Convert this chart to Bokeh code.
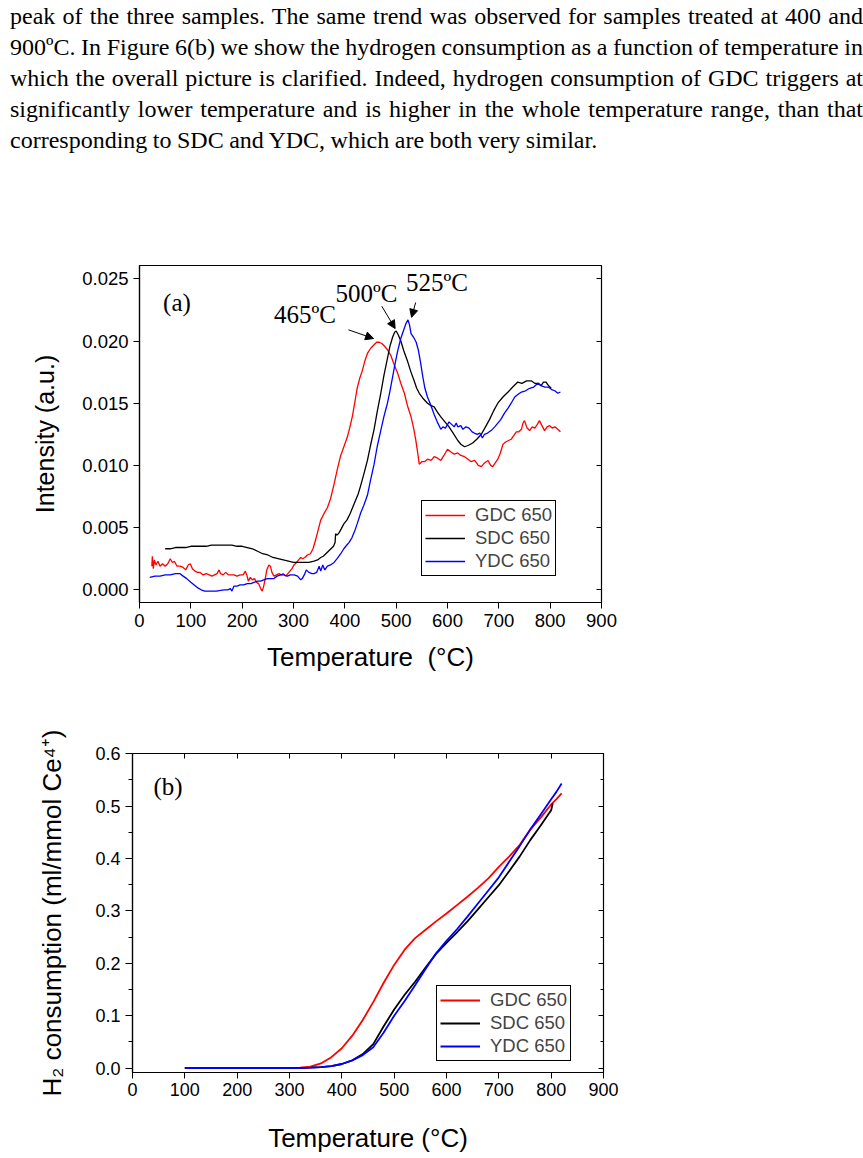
from bokeh.plotting import figure
from bokeh.models import (Range1d, SingleIntervalTicker, NumeralTickFormatter, LinearAxis,
                          Div, Arrow, NormalHead, ColumnDataSource, CustomJSTickFormatter)
from bokeh.core.properties import value
from bokeh.embed import file_html
from bokeh.resources import INLINE

# ---------------- text ----------------
PARAGRAPH = ("peak of the three samples. The same trend was observed for samples treated at 400 and "
             "900\u00baC. In Figure 6(b) we show the hydrogen consumption as a function of temperature in "
             "which the overall picture is clarified. Indeed, hydrogen consumption of GDC triggers at "
             "significantly lower temperature and is higher in the whole temperature range, than that "
             "corresponding to SDC and YDC, which are both very similar.")

SERIES = ["GDC 650", "SDC 650", "YDC 650"]
COLORS = ["#ff0000", "#000000", "#0000ff"]

# ---------------- panel (a): TPR intensity ----------------
gdc_a_x = [24, 25, 27, 29, 32, 36, 40, 45, 50, 55, 60, 64, 68, 73, 79, 85, 90, 95, 99, 103, 108, 113, 118, 124,
           130, 136, 141, 146, 151, 155, 158, 163, 168, 173, 178, 184, 190, 196, 202, 206, 209, 212, 216, 220,
           224, 228, 232, 236, 239, 242, 245, 248, 252, 255, 258, 262, 267, 272, 276, 280, 285, 289, 293, 297,
           301, 306, 310, 314, 318, 322, 327, 333, 338, 343, 348, 353, 359, 366, 372, 379, 386, 392, 399, 405,
           410, 415, 420, 424, 429, 434, 439, 444, 450, 457, 462, 467, 472, 477, 483, 490, 496, 503, 509, 516,
           522, 529, 534, 538, 542, 545, 550, 555, 561, 568, 574, 580, 587, 593, 600, 606, 613, 620, 626, 633,
           640, 646, 653, 660, 666, 672, 679, 684, 688, 693, 698, 703, 708, 714, 719, 724, 729, 734, 739, 744,
           747, 750, 755, 760, 765, 770, 775, 779, 784, 789, 794, 799, 804, 809, 815, 820]
gdc_a_y = [0.0019, 0.0027, 0.0017, 0.0024, 0.0020, 0.0023, 0.0019, 0.0021, 0.0019, 0.0021, 0.0025, 0.0022,
           0.0023, 0.0019, 0.0019, 0.0018, 0.0016, 0.0020, 0.0021, 0.0017, 0.0015, 0.0014, 0.0014, 0.0012,
           0.0013, 0.0012, 0.0011, 0.0012, 0.0013, 0.0016, 0.0013, 0.0012, 0.0014, 0.0012, 0.0012, 0.0012,
           0.0011, 0.0012, 0.0012, 0.0015, 0.0012, 0.0007, 0.0010, 0.0008, 0.0009, 0.0006, 0.0005, 0.0001,
           -0.0001, 0.0003, 0.0009, 0.0016, 0.0020, 0.0019, 0.0014, 0.0011, 0.0012, 0.0013, 0.0012, 0.0013,
           0.0011, 0.0013, 0.0015, 0.0017, 0.0020, 0.0022, 0.0024, 0.0026, 0.0025, 0.0026, 0.0028, 0.0029,
           0.0033, 0.0040, 0.0048, 0.0056, 0.0061, 0.0066, 0.0073, 0.0085, 0.0098, 0.0108, 0.0116, 0.0123,
           0.0131, 0.0140, 0.0152, 0.0162, 0.0170, 0.0176, 0.0184, 0.0190, 0.0194, 0.0197, 0.0199, 0.0199,
           0.0198, 0.0196, 0.0193, 0.0188, 0.0181, 0.0174, 0.0166, 0.0158, 0.0148, 0.0139, 0.0130, 0.0121,
           0.0110, 0.0101, 0.0103, 0.0103, 0.0105, 0.0104, 0.0107, 0.0106, 0.0104, 0.0108, 0.0113, 0.0111,
           0.0109, 0.0110, 0.0108, 0.0107, 0.0105, 0.0103, 0.0104, 0.0100, 0.0099, 0.0102, 0.0104, 0.0100,
           0.0099, 0.0102, 0.0105, 0.0110, 0.0117, 0.0119, 0.0120, 0.0121, 0.0124, 0.0127, 0.0127, 0.0129,
           0.0134, 0.0136, 0.0130, 0.0128, 0.0131, 0.0130, 0.0133, 0.0136, 0.0132, 0.0128, 0.0131, 0.0132,
           0.0130, 0.0131, 0.0129, 0.0127]

sdc_a_x = [50, 60, 70, 80, 90, 100, 110, 120, 130, 140, 150, 160, 170, 180, 190, 200, 210, 220, 230, 240, 250,
           260, 270, 280, 290, 300, 310, 320, 330, 340, 347, 353, 358, 363, 368, 373, 378, 381, 382, 385, 389,
           393, 398, 404, 410, 415, 420, 426, 431, 437, 444, 450, 457, 463, 470, 476, 483, 488, 493, 497, 500,
           504, 509, 515, 522, 528, 535, 540, 545, 552, 561, 568, 574, 580, 587, 595, 603, 611, 620, 626, 633,
           640, 649, 657, 666, 674, 682, 690, 698, 708, 718, 727, 737, 745, 754, 763, 770, 777, 782, 787, 792,
           797, 802]
sdc_a_y = [0.0033, 0.0033, 0.0034, 0.0034, 0.0034, 0.0035, 0.0035, 0.0035, 0.0035, 0.0036, 0.0036, 0.0036,
           0.0036, 0.0036, 0.0035, 0.0035, 0.0034, 0.0033, 0.0031, 0.0029, 0.0028, 0.0026, 0.0025, 0.0024,
           0.0023, 0.0022, 0.0022, 0.0022, 0.0022, 0.0023, 0.0024, 0.0026, 0.0027, 0.0029, 0.0031, 0.0033,
           0.0035, 0.0038, 0.0045, 0.0044, 0.0046, 0.0049, 0.0053, 0.0056, 0.0061, 0.0066, 0.0071, 0.0077,
           0.0084, 0.0093, 0.0104, 0.0116, 0.0129, 0.0143, 0.0158, 0.0172, 0.0186, 0.0196, 0.0203, 0.0207,
           0.0208, 0.0205, 0.0200, 0.0192, 0.0184, 0.0176, 0.0168, 0.0162, 0.0158, 0.0154, 0.0150, 0.0148,
           0.0147, 0.0143, 0.0139, 0.0135, 0.0131, 0.0126, 0.0120, 0.0117, 0.0115, 0.0116, 0.0118, 0.0121,
           0.0125, 0.0131, 0.0137, 0.0144, 0.0150, 0.0155, 0.0159, 0.0163, 0.0167, 0.0166, 0.0168, 0.0168,
           0.0166, 0.0166, 0.0164, 0.0167, 0.0167, 0.0164, 0.0162]

ydc_a_x = [20, 30, 40, 50, 60, 70, 79, 85, 92, 100, 106, 112, 120, 127, 132, 140, 150, 158, 165, 172, 177, 180,
           184, 190, 196, 203, 210, 217, 223, 230, 236, 242, 249, 255, 262, 268, 275, 281, 288, 294, 301, 308,
           314, 317, 321, 325, 330, 336, 340, 345, 350, 353, 357, 361, 366, 372, 379, 385, 392, 398, 404, 408,
           414, 419, 424, 431, 437, 444, 450, 457, 463, 470, 476, 483, 488, 493, 498, 503, 509, 514, 519, 523,
           526, 529, 534, 539, 543, 547, 552, 556, 561, 567, 574, 580, 587, 591, 596, 603, 608, 613, 617, 620,
           626, 630, 636, 642, 648, 652, 658, 663, 668, 672, 678, 685, 692, 698, 704, 711, 718, 724, 731, 737,
           744, 752, 760, 768, 776, 783, 790, 796, 803, 809, 815, 820]
ydc_a_y = [0.0010, 0.0011, 0.0011, 0.0012, 0.0012, 0.0013, 0.0013, 0.0011, 0.0009, 0.0006, 0.0004, 0.0002,
           0.0000, -0.0001, -0.0001, -0.0001, -0.0001, -0.00005, 0.0000, 0.0000, 0.0001, -0.0001, 0.0003,
           0.0003, 0.0004, 0.0004, 0.0005, 0.0005, 0.0006, 0.0007, 0.0007, 0.0008, 0.0009, 0.0009, 0.0009,
           0.0011, 0.0012, 0.0012, 0.0011, 0.0012, 0.0012, 0.0011, 0.0008, 0.0009, 0.0012, 0.0016, 0.0014,
           0.0013, 0.0013, 0.0014, 0.0019, 0.0015, 0.0020, 0.0016, 0.0019, 0.0020, 0.0022, 0.0025, 0.0029,
           0.0033, 0.0036, 0.0038, 0.0042, 0.0047, 0.0053, 0.0062, 0.0068, 0.0076, 0.0088, 0.0101, 0.0115,
           0.0128, 0.0139, 0.0150, 0.0160, 0.0171, 0.0182, 0.0192, 0.0202, 0.0208, 0.0214, 0.0217, 0.0213,
           0.0206, 0.0203, 0.0199, 0.0193, 0.0184, 0.0171, 0.0162, 0.0155, 0.0149, 0.0141, 0.0135, 0.0129,
           0.0131, 0.0130, 0.0135, 0.0133, 0.0131, 0.0134, 0.0131, 0.0132, 0.0129, 0.0131, 0.0130, 0.0127,
           0.0126, 0.0125, 0.0126, 0.0122, 0.0125, 0.0126, 0.0128, 0.0131, 0.0134, 0.0137, 0.0142, 0.0146,
           0.0150, 0.0155, 0.0157, 0.0159, 0.0160, 0.0162, 0.0163, 0.0166, 0.0164, 0.0163, 0.0163, 0.0161,
           0.0160, 0.0158, 0.0159]

# peak annotations of panel (a)
peak_labels = ["465\u00baC", "500\u00baC", "525\u00baC"]
peak_label_x = [262, 382, 519]
peak_label_y = [0.0221, 0.0238, 0.0247]
arrow_x0 = [407, 472, 538]
arrow_y0 = [0.0209, 0.0228, 0.0231]
arrow_x1 = [456, 498, 530]
arrow_y1 = [0.0202, 0.0210, 0.0219]

# ---------------- panel (b): H2 consumption ----------------
gdc_b_x = [100, 150, 200, 250, 300, 320, 340, 360, 380, 400, 420, 440, 460, 480, 500, 520, 540, 560, 580, 600,
           620, 640, 660, 680, 700, 720, 740, 760, 780, 800, 810, 820]
gdc_b_y = [0, 0, 0, 0, 0.0005, 0.001, 0.003, 0.009, 0.021, 0.038, 0.062, 0.092, 0.126, 0.163, 0.197, 0.226,
           0.248, 0.264, 0.280, 0.295, 0.311, 0.327, 0.344, 0.362, 0.384, 0.404, 0.426, 0.455, 0.478, 0.503,
           0.513, 0.524]
sdc_b_x = [100, 150, 200, 250, 300, 320, 340, 360, 380, 400, 420, 440, 460, 480, 500, 520, 540, 560, 580, 600,
           620, 640, 660, 680, 700, 720, 740, 760, 780, 795, 800, 803]
sdc_b_y = [0, 0, 0, 0, 0, 0.0003, 0.001, 0.002, 0.004, 0.008, 0.015, 0.027, 0.046, 0.080, 0.112, 0.140, 0.165,
           0.192, 0.218, 0.239, 0.259, 0.280, 0.303, 0.326, 0.349, 0.376, 0.404, 0.435, 0.463, 0.485, 0.492,
           0.505]
ydc_b_x = [100, 150, 200, 250, 300, 320, 340, 360, 380, 400, 420, 440, 460, 480, 500, 520, 540, 560, 580, 600,
           620, 640, 660, 680, 700, 720, 740, 760, 780, 800, 810, 820]
ydc_b_y = [0, 0, 0, 0, 0, 0.0003, 0.001, 0.002, 0.004, 0.008, 0.015, 0.025, 0.040, 0.068, 0.100, 0.128, 0.158,
           0.189, 0.219, 0.243, 0.265, 0.289, 0.314, 0.339, 0.364, 0.394, 0.424, 0.455, 0.484, 0.513, 0.527,
           0.543]

X_TICK_STEP = 100
SANS = "Liberation Sans"
SERIF = "Liberation Serif"


def style_axis(ax, size):
    ax.axis_line_color = "black"
    ax.axis_line_width = 1.2
    ax.major_tick_line_color = "black"
    ax.minor_tick_line_color = "black"
    ax.major_label_text_font = SANS
    ax.major_label_text_font_size = size
    ax.major_label_text_color = "black"
    ax.axis_label_text_font = SANS
    ax.axis_label_text_font_style = "normal"
    ax.axis_label_text_color = "black"


def mirror_axis(p, place, ticker):
    ax = LinearAxis(ticker=ticker, formatter=CustomJSTickFormatter(code="return ''"))
    ax.major_tick_in = 5
    ax.major_tick_out = 0
    ax.minor_tick_in = 3
    ax.minor_tick_out = 0
    ax.axis_line_color = "black"
    ax.major_tick_line_color = "black"
    ax.minor_tick_line_color = "black"
    ax.major_label_standoff = 0
    p.add_layout(ax, place)


def style_legend(p, loc, size):
    leg = p.legend[0]
    leg.location = loc
    leg.border_line_color = "black"
    leg.border_line_width = 1
    leg.border_line_alpha = 1
    leg.background_fill_color = "white"
    leg.background_fill_alpha = 1
    leg.label_text_font = SANS
    leg.label_text_font_size = size
    leg.glyph_width = 40
    leg.glyph_height = 18
    leg.label_height = 18
    leg.spacing = 1
    leg.padding = 3
    leg.margin = 0
    leg.label_standoff = 10


# ---------- paragraph ----------
para = Div(text=('<div style="margin:-4px 0 0 5px;width:853px;font-family:\'Liberation Serif\',serif;'
                 'font-size:24px;line-height:31px;text-align:justify;color:#000;word-spacing:-0.5px;">'
                 + PARAGRAPH + '</div>'),
           width=863, height=225)

# ---------- figure (a) ----------
pa = figure(width=863, height=455, output_backend="svg", toolbar_location=None,
            x_range=Range1d(0, 900), y_range=Range1d(-0.00102, 0.02607),
            min_border_left=139, min_border_right=262, min_border_top=30, min_border_bottom=88)
pa.background_fill_color = "white"
pa.border_fill_color = "white"
pa.outline_line_color = "black"
pa.outline_line_width = 1.2
pa.outline_line_alpha = 1
pa.xgrid.visible = False
pa.ygrid.visible = False

for xs, ys, name, col in zip([gdc_a_x, sdc_a_x, ydc_a_x], [gdc_a_y, sdc_a_y, ydc_a_y], SERIES, COLORS):
    pa.line(xs, ys, line_color=col, line_width=1.3, legend_label=name)

pa.text(x=peak_label_x, y=peak_label_y, text=peak_labels, text_font=value(SERIF),
        text_font_size="25px", text_baseline="middle", text_align="left", text_color="black")
pa.text(x=[46], y=[0.0231], text=["(a)"], text_font=value(SERIF), text_font_size="25px",
        text_baseline="middle", text_align="left", text_color="black")
arrows = ColumnDataSource(dict(x0=arrow_x0, y0=arrow_y0, x1=arrow_x1, y1=arrow_y1))
pa.add_layout(Arrow(end=NormalHead(size=8, fill_color="black", line_color="black", line_width=1),
                    x_start="x0", y_start="y0", x_end="x1", y_end="y1", source=arrows,
                    line_color="black", line_width=1))

xa = pa.xaxis[0]
style_axis(xa, "18.5px")
xa.ticker = SingleIntervalTicker(interval=X_TICK_STEP, num_minor_ticks=0)
xa.axis_label = "Temperature\u00a0 (\u00b0C)"
xa.axis_label_text_font_size = "26px"
xa.major_tick_out = 6
xa.major_tick_in = 0
xa.major_label_standoff = 5
xa.axis_label_standoff = 12

ya = pa.yaxis[0]
style_axis(ya, "18.5px")
ya.ticker = SingleIntervalTicker(interval=0.005, num_minor_ticks=0)
ya.formatter = NumeralTickFormatter(format="0.000")
ya.axis_label = "Intensity (a.u.)"
ya.axis_label_text_font_size = "25px"
ya.major_tick_out = 6
ya.major_tick_in = 0
ya.major_label_standoff = 5
ya.axis_label_standoff = 20

mirror_axis(pa, "right", SingleIntervalTicker(interval=0.005, num_minor_ticks=0))
style_legend(pa, (282, 26), "18.5px")

# ---------- figure (b) ----------
pb = figure(width=863, height=468, output_backend="svg", toolbar_location=None,
            x_range=Range1d(0, 900), y_range=Range1d(-0.0082, 0.6002),
            min_border_left=132, min_border_right=260, min_border_top=63, min_border_bottom=86)
pb.background_fill_color = "white"
pb.border_fill_color = "white"
pb.outline_line_color = "black"
pb.outline_line_width = 1.2
pb.outline_line_alpha = 1
pb.xgrid.visible = False
pb.ygrid.visible = False

for xs, ys, name, col in zip([gdc_b_x, sdc_b_x, ydc_b_x], [gdc_b_y, sdc_b_y, ydc_b_y], SERIES, COLORS):
    pb.line(xs, ys, line_color=col, line_width=1.8, legend_label=name)

pb.text(x=[40], y=[0.538], text=["(b)"], text_font=value(SERIF), text_font_size="25px",
        text_baseline="middle", text_align="left", text_color="black")

xb = pb.xaxis[0]
style_axis(xb, "18px")
xb.ticker = SingleIntervalTicker(interval=X_TICK_STEP, num_minor_ticks=0)
xb.axis_label = "Temperature (\u00b0C)"
xb.axis_label_text_font_size = "26px"
xb.major_tick_out = 6
xb.major_tick_in = 0
xb.major_label_standoff = 4
xb.axis_label_standoff = 24

yb = pb.yaxis[0]
style_axis(yb, "18px")
yb.ticker = SingleIntervalTicker(interval=0.1, num_minor_ticks=2)
yb.formatter = NumeralTickFormatter(format="0.0")
yb.axis_label = "H\u2082 consumption (ml/mmol Ce\u2074\u207a)"
yb.axis_label_text_font_size = "26px"
yb.major_tick_out = 7
yb.major_tick_in = 0
yb.minor_tick_out = 4
yb.minor_tick_in = 0
yb.major_label_standoff = 5
yb.axis_label_standoff = 25

mirror_axis(pb, "right", SingleIntervalTicker(interval=0.1, num_minor_ticks=2))
mirror_axis(pb, "above", SingleIntervalTicker(interval=X_TICK_STEP, num_minor_ticks=0))
style_legend(pb, (304, 11), "18.5px")

# separate roots (stacked as blocks) so that the two plot frames are not aligned to each other
open("out.html", "w").write(file_html([para, pa, pb], INLINE))
